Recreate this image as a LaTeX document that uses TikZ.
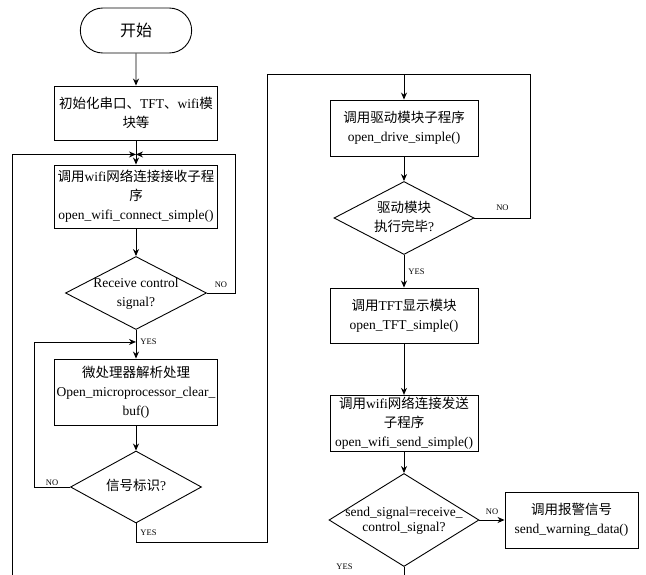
\documentclass[tikz,border=0pt]{standalone}
\usepackage{fontspec}
\setmainfont{Liberation Serif}
\newfontfamily\cjk{Noto Sans CJK SC}
\usetikzlibrary{shapes.geometric,shapes.misc,arrows.meta}
\newcommand{\zh}[1]{{\cjk #1}}
\newcommand{\dtxt}[1]{\makebox[0pt]{\begin{tabular}{@{}c@{}}#1\end{tabular}}}

\begin{document}
\begin{tikzpicture}[
    x=1pt, y=1pt,
    line width=0.9pt,
    node distance=95pt,
    box/.style={rectangle, draw, text width=159pt, align=center, inner sep=2pt, minimum height=55pt, font=\fontsize{13.5}{19}\selectfont},
    dec/.style={diamond, draw, inner sep=0pt, font=\fontsize{13.5}{19}\selectfont},
    term/.style={rounded rectangle, draw, minimum width=118pt, minimum height=45pt, font=\fontsize{16}{19}\selectfont},
    arrow/.style={->, >={Stealth[length=7pt, width=6pt]}},
    lbl/.style={font=\fontsize{8.5}{10}\selectfont, inner sep=1pt}
]
\useasboundingbox (0,0) rectangle (646,-575);

% Left column: receive and parse
\node[term] (start) at (136,-30.5) {\zh{开始}};
\node[box, below of=start, yshift=12.5pt, minimum height=54pt] (init) {\zh{初始化串口、}TFT\zh{、}wifi\zh{模}\\\zh{块等}};
\node[box, below of=init, yshift=11.5pt, minimum height=63pt] (recv) {\zh{调用}wifi\zh{网络连接接收子程}\\\zh{序}\\open\_wifi\_connect\_simple()};
\node[dec, below of=recv, yshift=-1.5pt, minimum width=141pt, minimum height=73pt] (chk) {\dtxt{Receive control\\signal?}};
\node[box, below of=chk, yshift=-4pt, minimum height=66pt] (parse) {\zh{微处理器解析处理}\\Open\_microprocessor\_clear\_\\buf()};
\node[dec, below of=parse, minimum width=131pt, minimum height=72pt] (flag) {\dtxt{\zh{信号标识}?}};

% Right column: drive, display, send
\node[box, text width=144pt, minimum height=56pt] (drive) at (404,-128) {\zh{调用驱动模块子程序}\\open\_drive\_simple()};
\node[dec, below of=drive, yshift=5pt, minimum width=140pt, minimum height=73pt] (done) {\dtxt{\zh{驱动模块}\\\zh{执行完毕}?}};
\node[box, text width=144pt, below of=done, yshift=-2.5pt] (tft) {\zh{调用}TFT\zh{显示模块}\\open\_TFT\_simple()};
\node[box, text width=144pt, below of=tft, yshift=-13pt] (send) {\zh{调用}wifi\zh{网络连接发送}\\\zh{子程序}\\open\_wifi\_send\_simple()};
\node[dec, below of=send, yshift=-1.5pt, minimum width=150pt, minimum height=93pt] (cmp) {\dtxt{send\_signal=receive\_\\[-4pt]control\_signal?}};
\node[box, text width=129pt, minimum height=56pt, right of=cmp, xshift=72.5pt] (warn) {\zh{调用报警信号}\\send\_warning\_data()};

% Loop points
\coordinate (j1) at ([yshift=-14pt]init.south);
\coordinate (j2) at ([yshift=-12pt]chk.south);
\coordinate (j3) at ([yshift=25pt]drive.north);
\coordinate (topl) at ([xshift=-137pt]j3);
\coordinate (ret) at (12,-575);
\coordinate (out) at (cmp.south |- ret);

% Arrows, left
\draw[arrow] (start) -- (init);
\draw[arrow] (init) -- (recv);
\draw[arrow] (recv) -- (chk);
\draw[arrow] (chk) -- node[lbl, right=3pt, pos=0.4] {YES} (parse);
\draw[arrow] (chk.east) -- node[lbl, above=4pt] {NO} ++(28,0) |- (j1);
\draw[arrow] (ret) |- (j1);
\draw[arrow] (parse) -- (flag);
\draw[arrow] (flag.west) -- node[lbl, above=0pt] {NO} ++(-36,0) |- (j2);
\draw[arrow] (flag.south) -- node[lbl, right=3pt] {YES} ++(0,-19) -| (topl) -- (j3) -- (drive);

% Arrows, right
\draw[arrow] (drive) -- (done);
\draw (done.east) -- node[lbl, above=6pt] {NO} ++(56,0) |- (j3);
\draw[arrow] (done) -- node[lbl, right=3pt] {YES} (tft);
\draw[arrow] (tft) -- (send);
\draw[arrow] (send) -- (cmp);
\draw[arrow] (cmp) -- node[lbl, above=4pt] {NO} (warn);
\draw (cmp.south) -- node[lbl, at start, left=50pt] {YES} (out);

\end{tikzpicture}
\end{document}
